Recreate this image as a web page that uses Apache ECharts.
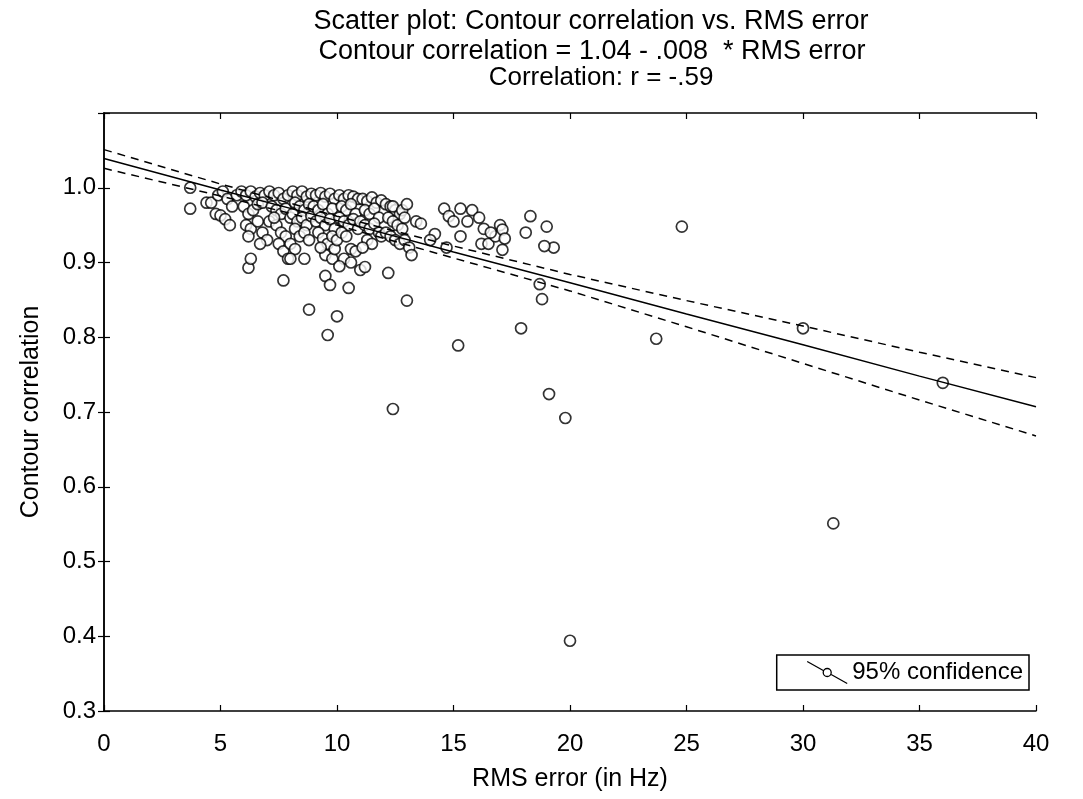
<!DOCTYPE html>
<html>
<head>
<meta charset="utf-8">
<script src="https://cdn.jsdelivr.net/npm/echarts@6/dist/echarts.min.js"></script>
<style>html,body{margin:0;padding:0;background:#fff;}#c{width:1083px;height:799px;}</style>
</head>
<body>
<div id="c"></div>
<script>
// ---- data ----
const titleLines = ["Scatter plot: Contour correlation vs. RMS error",
                    "Contour correlation = 1.04 - .008  * RMS error",
                    "Correlation: r = -.59"];
const xTicks = [0, 5, 10, 15, 20, 25, 30, 35, 40];
const yTicks = [0.3, 0.4, 0.5, 0.6, 0.7, 0.8, 0.9, 1.0];

const rmsError = [
  3.7,3.7,
  4.4,4.6,4.9,5.1,5.3,4.8,5.0,5.2,5.4,5.5,5.7,
  5.9,6.1,6.3,6.5,6.7,6.9,6.0,6.2,6.4,6.6,6.8,6.1,6.3,6.6,6.8,7.0,6.7,6.2,
  7.1,7.3,7.5,7.7,7.9,7.2,7.4,7.6,7.8,7.1,7.4,7.6,7.8,7.5,7.7,7.9,7.3,8.0,
  8.1,8.3,8.5,8.7,8.9,8.2,8.4,8.6,8.8,8.1,8.3,8.5,8.7,8.9,8.2,8.4,8.6,8.8,8.0,8.2,8.0,8.6,
  9.1,9.3,9.5,9.7,9.9,9.0,9.2,9.4,9.6,9.8,9.1,9.3,9.5,9.7,9.9,9.2,9.4,9.6,9.8,9.5,9.8,9.9,10.0,9.3,
  10.1,10.3,10.5,10.7,10.9,10.2,10.4,10.6,10.8,10.1,10.3,10.5,10.7,10.9,10.2,10.4,10.6,10.8,10.3,10.1,10.6,
  11.1,11.3,11.5,11.7,11.9,11.2,11.4,11.6,11.8,11.0,11.2,11.4,11.6,11.8,11.3,11.5,11.9,11.1,
  12.1,12.3,12.5,12.7,12.2,12.4,12.6,12.8,12.1,12.3,12.5,12.7,12.9,12.4,12.8,
  6.2,6.3,7.7,8.8,9.6,10.0,9.5,9.7,10.5,11.0,11.2,12.2,12.4,13.0,
  13.1,13.2,13.4,13.0,12.9,13.6,
  14.6,15.3,15.8,16.1,14.8,15.0,15.6,16.3,14.2,14.0,14.7,15.3,16.2,16.5,16.8,17.0,17.1,17.2,17.1,16.6,
  15.2,17.9,18.3,18.1,18.7,18.8,19.0,19.3,18.9,19.1,19.8,20.0,23.7,24.8,30.0,31.3,36.0
];
const contourCorr = [
  1.000,0.972,
  0.980,0.980,0.990,0.995,0.985,0.965,0.963,0.958,0.950,0.975,0.990,
  0.995,0.990,0.995,0.988,0.993,0.990,0.975,0.965,0.970,0.978,0.980,0.950,0.945,0.955,0.940,0.930,0.925,0.935,
  0.995,0.990,0.993,0.985,0.990,0.975,0.970,0.965,0.972,0.955,0.950,0.940,0.935,0.925,0.915,0.905,0.960,0.960,
  0.995,0.990,0.995,0.988,0.992,0.980,0.975,0.970,0.978,0.965,0.955,0.960,0.950,0.962,0.945,0.935,0.940,0.930,0.925,0.918,0.905,0.905,
  0.990,0.993,0.988,0.992,0.985,0.975,0.970,0.978,0.965,0.972,0.955,0.960,0.950,0.958,0.945,0.940,0.932,0.925,0.935,0.910,0.905,0.918,0.930,0.920,
  0.990,0.985,0.990,0.988,0.985,0.975,0.970,0.978,0.965,0.960,0.955,0.950,0.958,0.945,0.940,0.935,0.918,0.915,0.905,0.895,0.900,
  0.985,0.982,0.987,0.980,0.983,0.970,0.965,0.972,0.960,0.955,0.950,0.945,0.952,0.940,0.930,0.925,0.935,0.920,
  0.978,0.975,0.970,0.965,0.960,0.955,0.950,0.945,0.940,0.935,0.930,0.925,0.930,0.975,0.970,
  0.893,0.905,0.876,0.837,0.803,0.828,0.882,0.870,0.866,0.890,0.894,0.886,0.704,0.849,
  0.920,0.910,0.955,0.978,0.960,0.952,
  0.972,0.972,0.970,0.960,0.962,0.955,0.955,0.945,0.938,0.930,0.920,0.935,0.925,0.925,0.935,0.950,0.944,0.932,0.917,0.940,
  0.789,0.812,0.962,0.940,0.871,0.851,0.948,0.920,0.922,0.724,0.692,0.394,0.798,0.948,0.812,0.551,0.739
];

const fitX   = [0, 5, 10, 15, 20, 25, 30, 35, 40];
const fitY   = [1.039, 0.997, 0.956, 0.914, 0.873, 0.831, 0.790, 0.748, 0.707];
const upperY = [1.051, 1.005, 0.962, 0.922, 0.884, 0.849, 0.815, 0.780, 0.746];
const lowerY = [1.026, 0.989, 0.950, 0.906, 0.862, 0.814, 0.765, 0.716, 0.668];

// ---- chart ----
const pts = rmsError.map((x, i) => [x, contourCorr[i]]);
const zip = (xs, ys) => xs.map((x, i) => [x, ys[i]]);
const FONT = '"Liberation Sans", Arial, sans-serif';

const chart = echarts.init(document.getElementById('c'), null, {renderer: 'canvas'});
const axisCommon = {
  axisLine: {show: true, lineStyle: {color: '#000', width: 1.5}},
  axisTick: {show: true, inside: true, length: 6, lineStyle: {color: '#000', width: 1.2}},
  splitLine: {show: false}
};
const titleStyle = {fontFamily: FONT, fontSize: 27, fontWeight: 'normal', color: '#000'};
chart.setOption({
  backgroundColor: '#fff',
  animation: false,
  title: [
    {text: titleLines[0], left: 586, top: 3, textAlign: 'center', textStyle: titleStyle},
    {text: titleLines[1], left: 587, top: 33, textAlign: 'center', textStyle: titleStyle},
    {text: titleLines[2], left: 596, top: 60, textAlign: 'center',
     textStyle: Object.assign({}, titleStyle, {fontSize: 26})}
  ],
  grid: {left: 104, right: 47, top: 113, bottom: 88, containLabel: false},
  legend: {
    data: ['95% confidence'],
    right: 54, bottom: 109,
    orient: 'vertical',
    padding: [4, 6, 4, 28],
    borderColor: '#000', borderWidth: 1.5,
    itemWidth: 40, itemHeight: 22, itemGap: 6,
    icon: 'path://M0 0L16.5 9.3M40 22L23.5 12.7M24 11A4 4 0 1 1 16 11A4 4 0 1 1 24 11Z',
    itemStyle: {color: 'none', borderColor: '#000', borderWidth: 1.3},
    textStyle: {fontFamily: FONT, fontSize: 24, color: '#000'}
  },
  xAxis: [
    Object.assign({}, axisCommon, {
      type: 'value', min: 0, max: 40, interval: 5, position: 'bottom',
      name: 'RMS error (in Hz)', nameLocation: 'middle', nameGap: 56,
      nameTextStyle: {fontFamily: FONT, fontSize: 25, color: '#000'},
      axisLabel: {fontFamily: FONT, fontSize: 24, color: '#000', margin: 21,
        formatter: v => xTicks.includes(v) ? String(v) : ''}
    }),
    Object.assign({}, axisCommon, {
      type: 'value', min: 0, max: 40, interval: 5, position: 'top',
      axisLabel: {show: false}
    })
  ],
  yAxis: [
    Object.assign({}, axisCommon, {
      type: 'value', min: 0.3, max: 1.1, interval: 0.1, position: 'left',
      name: 'Contour correlation', nameLocation: 'middle', nameGap: 60,
      nameTextStyle: {fontFamily: FONT, fontSize: 25, color: '#000'},
      axisLabel: {fontFamily: FONT, fontSize: 24, color: '#000', margin: 8,
        formatter: v => {
          const t = yTicks.find(k => Math.abs(k - v) < 1e-6);
          return t === undefined ? '' : t.toFixed(1);
        }}
    }),
    Object.assign({}, axisCommon, {
      type: 'value', min: 0.3, max: 1.1, interval: 0.1, position: 'right',
      axisLabel: {show: false}
    })
  ],
  series: [
    {
      name: 'data', type: 'scatter', data: pts, symbol: 'circle', symbolSize: 11,
      itemStyle: {color: '#fff', borderColor: '#000', borderWidth: 1.7},
      z: 3
    },
    {
      name: 'fit', type: 'line', data: zip(fitX, fitY), showSymbol: false, symbol: 'none',
      lineStyle: {color: '#000', width: 1.5, type: 'solid'}, z: 4
    },
    {
      name: '95% confidence', type: 'line', data: zip(fitX, upperY), showSymbol: false, symbol: 'none',
      smooth: false, color: '#000',
      lineStyle: {color: '#000', width: 1.5, type: [8, 6]}, z: 4
    },
    {
      name: 'lower', type: 'line', data: zip(fitX, lowerY), showSymbol: false, symbol: 'none',
      lineStyle: {color: '#000', width: 1.5, type: [8, 6]}, z: 4
    }
  ]
});
</script>
</body>
</html>
